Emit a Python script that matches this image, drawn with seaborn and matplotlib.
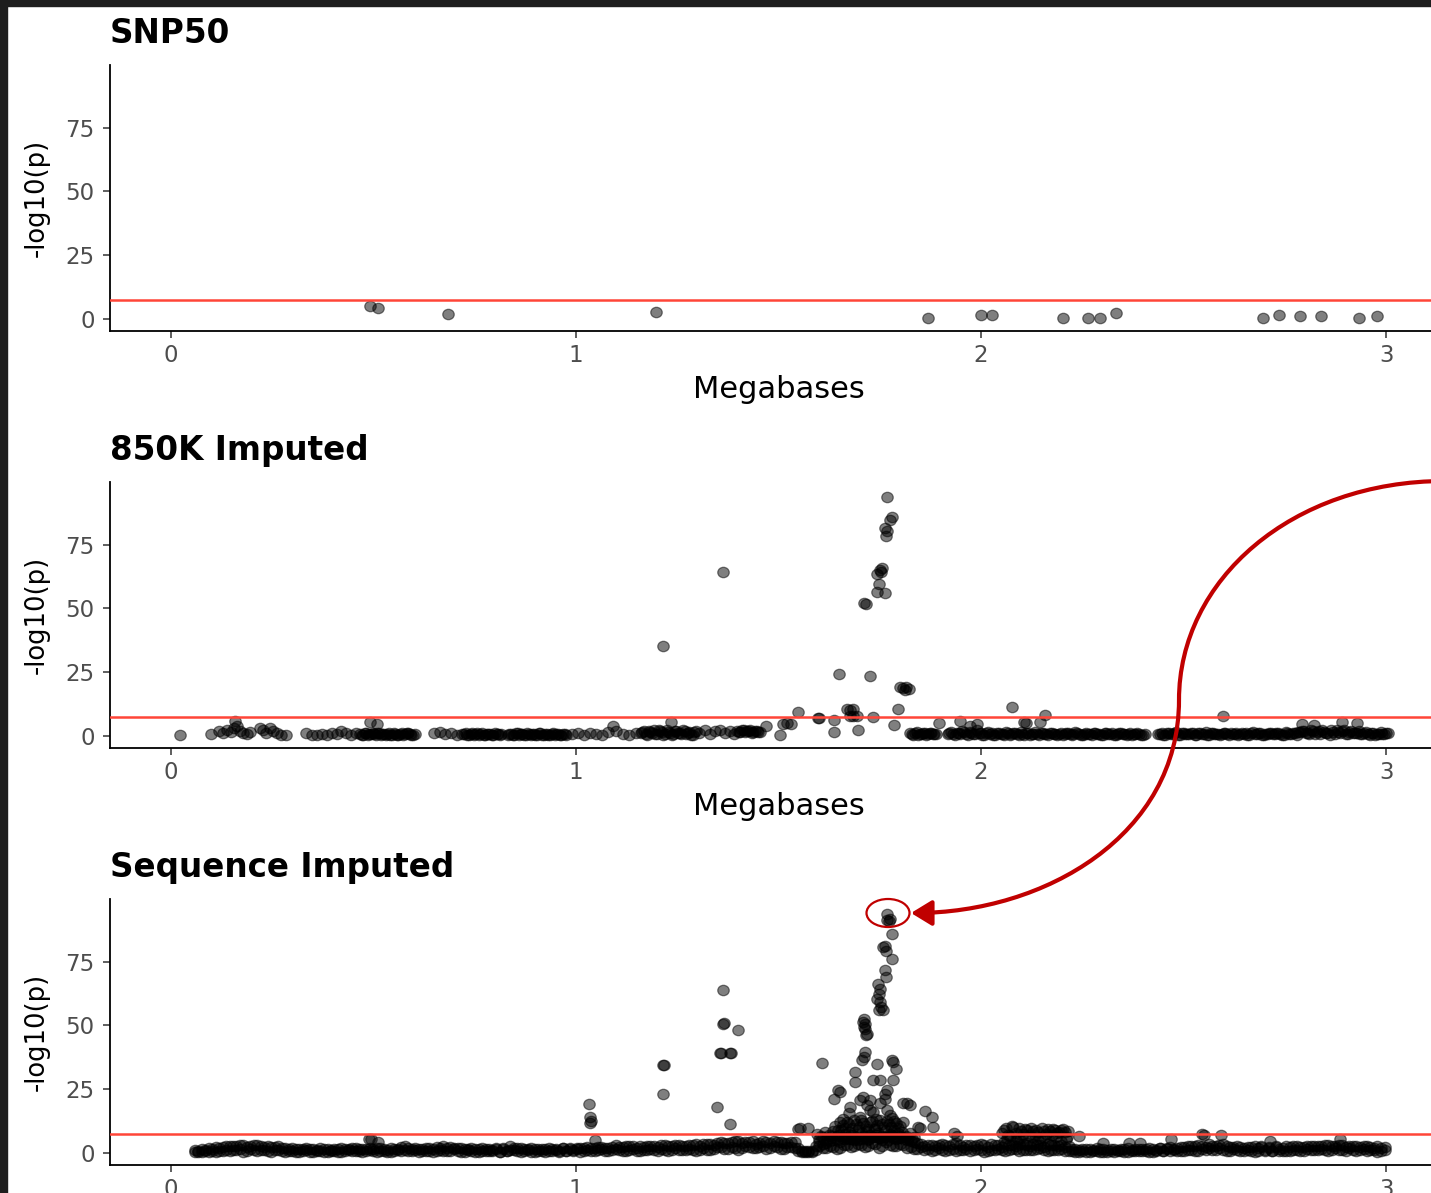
import numpy as np
import pandas as pd
import matplotlib
matplotlib.use("Agg")
import matplotlib.pyplot as plt
import seaborn as sns
from matplotlib.patches import FancyArrowPatch, Ellipse, Rectangle
from matplotlib.path import Path
from matplotlib.transforms import Affine2D

# ---------------------------------------------------------------- data
panel_titles = ["SNP50", "850K Imputed", "Sequence Imputed"]
x_ticks = [0, 1, 2, 3]
x_tick_labels = ["0", "1", "2", "3"]
y_ticks = [0, 25, 50, 75]
sig_threshold = 7.3

# SNP50 array
snp50_mb = [0.491, 0.511, 0.684, 1.198, 1.869, 2.000, 2.027, 2.202, 2.264, 2.294,
            2.333, 2.696, 2.736, 2.788, 2.840, 2.933, 2.978]
snp50_logp = [5.1, 4.3, 2.0, 2.7, 0.4, 1.6, 1.6, 0.4, 0.4, 0.4,
              2.3, 0.4, 1.6, 1.2, 1.2, 0.4, 1.2]

# 850K imputed: background markers
imp850_band_mb = [
    0.100, 0.118, 0.130, 0.140, 0.148, 0.155, 0.170, 0.178, 0.188, 0.196,
    0.220, 0.228, 0.236, 0.244, 0.252, 0.262, 0.272, 0.284, 0.335, 0.349,
    0.362, 0.374, 0.386, 0.398, 0.410, 0.432, 0.445, 0.458, 0.467, 0.475,
    0.483, 0.490, 0.498, 0.506, 0.514, 0.522, 0.530, 0.538, 0.546, 0.554,
    0.562, 0.570, 0.578, 0.586, 0.594, 0.602, 0.650, 0.664, 0.678, 0.692,
    0.706, 0.720, 0.728, 0.736, 0.744, 0.752, 0.760, 0.768, 0.776, 0.784,
    0.792, 0.800, 0.808, 0.816, 0.832, 0.840, 0.848, 0.856, 0.864, 0.872,
    0.880, 0.888, 0.896, 0.904, 0.912, 0.920, 0.928, 0.936, 0.944, 0.952,
    0.960, 0.968, 0.976, 0.990, 1.005, 1.020, 1.035, 1.050, 1.065, 1.080,
    1.100, 1.115, 1.130, 1.148, 1.160, 1.168, 1.176, 1.184, 1.192, 1.200,
    1.208, 1.216, 1.224, 1.232, 1.240, 1.248, 1.256, 1.264, 1.272, 1.280,
    1.288, 1.296, 1.305, 1.318, 1.330, 1.343, 1.356, 1.368, 1.380, 1.390,
    1.398, 1.406, 1.414, 1.422, 1.430, 1.438, 1.446, 1.454, 1.825, 1.833,
    1.841, 1.849, 1.857, 1.865, 1.873, 1.881, 1.889,
    1.918, 1.927, 1.936, 1.945, 1.954, 1.963, 1.972, 1.981, 1.990, 1.999,
    2.008, 2.017, 2.026, 2.035, 2.044, 2.053, 2.062, 2.071, 2.080, 2.089,
    2.098, 2.107, 2.116, 2.125, 2.134, 2.143, 2.152, 2.161, 2.170, 2.179,
    2.188, 2.197, 2.206, 2.215, 2.224, 2.233, 2.242, 2.251, 2.260, 2.269,
    2.278, 2.287, 2.296, 2.305, 2.314, 2.323, 2.332, 2.341, 2.350, 2.359,
    2.368, 2.377, 2.386, 2.395, 2.404,
    2.437, 2.446, 2.455, 2.464, 2.473, 2.482, 2.491, 2.500, 2.509, 2.518,
    2.527, 2.536, 2.545, 2.554, 2.563, 2.572, 2.581, 2.590, 2.599, 2.608,
    2.617, 2.626, 2.635, 2.644, 2.653, 2.662, 2.671, 2.680, 2.689, 2.698,
    2.707, 2.716, 2.725, 2.734, 2.743, 2.752, 2.761, 2.770, 2.779, 2.788,
    2.797, 2.806, 2.815, 2.824, 2.833, 2.842, 2.851, 2.860, 2.869, 2.878,
    2.887, 2.896, 2.905, 2.914, 2.923, 2.932, 2.941, 2.950, 2.959, 2.968,
    2.977, 2.986, 2.995, 3.004,
]
imp850_band_logp = [
    0.8, 2.0, 1.0, 2.5, 1.5, 3.0, 2.0, 1.0, 0.8, 1.5,
    3.0, 2.5, 1.0, 3.0, 2.0, 1.0, 0.5, 0.5, 1.0, 0.5,
    0.3, 0.8, 0.5, 1.0, 0.6, 1.0, 0.5, 1.2, 0.8, 0.3,
    1.2, 0.6, 1.0, 0.4, 1.3, 0.7, 0.2, 1.1, 0.5, 0.9,
    0.3, 1.2, 0.6, 1.0, 0.4, 0.8, 1.0, 1.5, 0.8, 1.2,
    0.5, 0.6, 1.0, 0.3, 1.2, 0.7, 0.4, 1.1, 0.5, 0.9,
    0.2, 1.0, 0.6, 0.8, 0.5, 0.9, 0.3, 1.1, 0.6, 0.2,
    1.0, 0.4, 0.8, 0.3, 1.2, 0.5, 0.7, 0.2, 1.0, 0.6,
    0.4, 0.9, 0.5, 0.8, 1.0, 0.5, 1.0, 0.8, 0.5, 1.5,
    2.0, 0.8, 0.5, 1.2, 1.0, 2.0, 0.4, 1.5, 2.5, 0.8,
    1.8, 0.5, 2.2, 1.2, 0.6, 2.0, 1.0, 2.4, 0.7, 1.6,
    0.3, 1.9, 1.2, 2.4, 0.8, 1.8, 2.5, 1.0, 2.0, 0.6,
    2.0, 1.5, 2.4, 1.8, 2.2, 1.6, 2.1, 1.4, 1.0, 0.5,
    1.4, 0.8, 1.2, 0.4, 1.1, 0.6, 0.9,
    0.8, 1.5, 0.4, 1.2, 2.0, 0.6, 1.4, 0.9, 2.2, 1.1,
    0.5, 1.6, 1.0, 0.3, 1.3, 0.7, 1.5, 0.4, 1.2, 0.9,
    1.6, 0.5, 1.1, 0.8, 1.4, 0.3, 1.0, 0.6, 1.3, 0.8,
    0.4, 1.2, 0.7, 1.0, 0.5, 1.4, 0.8, 0.3, 1.1, 0.6,
    1.3, 0.9, 0.4, 1.2, 0.7, 1.0, 0.5, 1.3, 0.8, 0.4,
    1.1, 0.6, 1.0, 0.3, 0.8,
    0.6, 1.2, 0.4, 1.0, 0.8, 1.4, 0.3, 1.1, 0.7, 1.3,
    0.5, 1.0, 0.8, 1.5, 0.4, 1.2, 0.9, 0.3, 1.1, 0.6,
    1.3, 0.8, 0.4, 1.2, 1.0, 0.5, 1.4, 0.7, 1.1, 0.3,
    0.9, 1.3, 0.6, 1.0, 0.4, 1.5, 0.8, 1.2, 0.5, 1.6,
    2.0, 1.0, 2.4, 0.7, 1.8, 2.2, 1.2, 0.5, 1.6, 2.5,
    1.1, 2.2, 0.6, 1.8, 1.3, 2.0, 0.8, 1.5, 0.4, 1.2,
    0.9, 1.4, 0.6, 1.0,
]
# 850K imputed: extra markers inside the densely typed stretches
imp850_dense_mb = [
    0.471, 0.479, 0.487, 0.494, 0.502, 0.510, 0.518, 0.526, 0.534, 0.542,
    0.550, 0.558, 0.566, 0.574, 0.582, 0.590, 0.598, 0.724, 0.732, 0.740,
    0.748, 0.756, 0.764, 0.772, 0.780, 0.788, 0.796, 0.804, 0.812, 0.836,
    0.844, 0.852, 0.860, 0.868, 0.876, 0.884, 0.892, 0.900, 0.908, 0.916,
    0.924, 0.932, 0.940, 0.948, 0.956, 0.964, 0.972, 1.164, 1.172, 1.180,
    1.188, 1.196, 1.204, 1.212, 1.220, 1.228, 1.236, 1.244, 1.252, 1.260,
    1.268, 1.276, 1.284, 1.292, 1.402, 1.410, 1.418, 1.426, 1.434, 1.442,
    1.450, 1.829, 1.837, 1.845, 1.853, 1.861, 1.869, 1.877, 1.885, 1.922,
    1.931, 1.940, 1.949, 1.958, 1.967, 1.976, 1.985, 1.994, 2.003, 2.012,
    2.021, 2.030, 2.039, 2.048, 2.057, 2.066, 2.075, 2.084, 2.093, 2.102,
    2.111, 2.120, 2.129, 2.138, 2.147, 2.156, 2.165, 2.174, 2.183, 2.192,
    2.201, 2.210, 2.219, 2.228, 2.237, 2.246, 2.255, 2.264, 2.273, 2.282,
    2.291, 2.300, 2.309, 2.318, 2.327, 2.336, 2.345, 2.354, 2.363, 2.372,
    2.381, 2.390, 2.399, 2.441, 2.450, 2.459, 2.468, 2.477, 2.486, 2.495,
    2.504, 2.513, 2.522, 2.531, 2.540, 2.549, 2.558, 2.567, 2.576, 2.585,
    2.594, 2.603, 2.612, 2.621, 2.630, 2.639, 2.648, 2.657, 2.666, 2.675,
    2.684, 2.693, 2.702, 2.711, 2.720, 2.729, 2.738, 2.747, 2.756, 2.765,
    2.774, 2.783, 2.792, 2.801, 2.810, 2.819, 2.828, 2.837, 2.846, 2.855,
    2.864, 2.873, 2.882, 2.891, 2.900, 2.909, 2.918, 2.927, 2.936, 2.945,
    2.954, 2.963, 2.972, 2.981, 2.990, 2.999,
]
imp850_dense_logp = [
    0.5, 1.0, 0.3, 0.9, 0.6, 1.1, 0.4, 0.8, 0.6, 0.3,
    1.0, 0.5, 0.8, 0.4, 1.0, 0.6, 0.5, 0.8, 0.4, 0.9,
    0.5, 1.0, 0.6, 0.3, 0.9, 0.7, 0.4, 0.8, 0.5, 0.7,
    0.3, 1.0, 0.5, 0.8, 0.4, 0.7, 0.9, 0.4, 1.0, 0.5,
    0.8, 0.3, 0.9, 0.5, 0.7, 0.3, 0.8, 1.5, 0.6, 2.0,
    1.2, 0.7, 2.2, 1.4, 0.9, 1.6, 0.4, 1.8, 1.3, 0.8,
    2.1, 1.1, 0.5, 1.4, 1.7, 2.2, 1.5, 2.0, 1.3, 1.9,
    1.7, 0.7, 1.1, 0.5, 0.9, 1.3, 0.6, 1.0, 0.8, 1.1,
    0.6, 1.3, 0.9, 1.6, 0.4, 1.0, 0.7, 1.3, 0.5, 1.1,
    0.8, 0.5, 1.2, 0.9, 0.4, 1.1, 0.6, 1.0, 0.3, 0.8,
    1.2, 0.5, 0.9, 0.6, 1.0, 0.7, 0.4, 1.1, 0.6, 0.9,
    0.3, 1.0, 0.6, 0.8, 1.2, 0.5, 0.9, 0.6, 0.4, 1.0,
    0.7, 0.5, 1.1, 0.8, 0.3, 0.9, 1.0, 0.6, 0.7, 0.5,
    0.9, 0.6, 0.5, 0.9, 0.5, 1.1, 0.6, 1.0, 0.4, 1.2,
    0.8, 0.6, 1.0, 0.4, 1.3, 0.7, 0.5, 1.1, 0.8, 0.6,
    0.9, 1.2, 0.5, 0.8, 1.1, 0.6, 0.9, 0.4, 1.0, 0.7,
    1.2, 0.5, 0.8, 1.1, 0.6, 1.0, 0.8, 0.5, 1.3, 0.7,
    1.0, 1.4, 1.8, 1.2, 0.6, 2.0, 1.5, 0.9, 1.7, 1.1,
    2.3, 0.8, 1.4, 1.9, 0.7, 1.6, 1.0, 1.3, 0.6, 1.1,
    0.8, 1.2, 0.5, 0.9, 0.6, 1.0,
]
# 850K imputed: associated markers
imp850_hit_mb = [
    0.024, 0.158, 0.163, 0.420, 0.491, 0.508, 1.092, 1.215, 1.234, 1.363,
    1.470, 1.504, 1.512, 1.522, 1.530, 1.549, 1.597, 1.601, 1.636, 1.636,
    1.650, 1.668, 1.676, 1.684, 1.677, 1.685, 1.693, 1.695, 1.712, 1.715,
    1.726, 1.734, 1.742, 1.744, 1.747, 1.750, 1.752, 1.755, 1.763, 1.763,
    1.765, 1.767, 1.769, 1.774, 1.779, 1.785, 1.796, 1.800, 1.808, 1.812,
    1.815, 1.822, 1.897, 1.948, 1.973, 1.989, 2.076, 2.105, 2.110, 2.146,
    2.158, 2.597, 2.792, 2.821, 2.891, 2.928,
]
imp850_hit_logp = [
    0.5, 6.0, 4.0, 2.1, 5.3, 4.7, 4.0, 35.2, 5.6, 64.1,
    4.0, 0.4, 4.7, 4.9, 4.6, 9.5, 7.1, 6.9, 6.4, 1.7,
    24.2, 10.5, 10.2, 10.5, 7.7, 8.0, 7.7, 2.3, 52.0, 51.7,
    23.6, 7.3, 63.3, 56.4, 59.4, 65.0, 64.2, 65.9, 81.5, 56.1,
    78.2, 80.5, 93.6, 84.8, 85.7, 4.4, 10.5, 19.2, 18.8, 18.2,
    19.0, 18.6, 5.0, 6.0, 4.0, 4.7, 11.2, 5.3, 5.0, 5.3,
    8.2, 7.7, 4.7, 4.2, 5.6, 5.2,
]

# Sequence imputed: background markers (two markers per listed position)
seq_band_mb = [
    0.060, 0.068, 0.077, 0.085, 0.094, 0.102, 0.111, 0.119, 0.128, 0.137,
    0.145, 0.153, 0.162, 0.171, 0.179, 0.188, 0.196, 0.205, 0.214, 0.222,
    0.231, 0.239, 0.248, 0.257, 0.265, 0.274, 0.283, 0.291, 0.300, 0.309,
    0.317, 0.326, 0.335, 0.343, 0.352, 0.361, 0.369, 0.378, 0.387, 0.395,
    0.404, 0.413, 0.421, 0.430, 0.439, 0.447, 0.456, 0.465, 0.473, 0.482,
    0.491, 0.500, 0.508, 0.517, 0.526, 0.534, 0.543, 0.552, 0.560, 0.569,
    0.578, 0.586, 0.595, 0.604, 0.612, 0.621, 0.630, 0.638, 0.647, 0.656,
    0.664, 0.673, 0.682, 0.690, 0.699, 0.708, 0.716, 0.725, 0.734, 0.742,
    0.751, 0.760, 0.768, 0.777, 0.786, 0.794, 0.803, 0.812, 0.820, 0.829,
    0.838, 0.846, 0.855, 0.864, 0.872, 0.881, 0.890, 0.898, 0.907, 0.916,
    0.924, 0.933, 0.942, 0.950, 0.959, 0.968, 0.976, 0.985, 0.994, 1.002,
    1.011, 1.020, 1.028, 1.037, 1.046, 1.054, 1.063, 1.072, 1.080, 1.089,
    1.098, 1.106, 1.115, 1.124, 1.132, 1.141, 1.150, 1.158, 1.167, 1.176,
    1.184, 1.193, 1.202, 1.210, 1.219, 1.228, 1.236, 1.245, 1.254, 1.262,
    1.271, 1.280, 1.288, 1.297, 1.306, 1.314, 1.323, 1.332, 1.340, 1.349,
    1.358, 1.366, 1.375, 1.384, 1.392, 1.401, 1.410, 1.418, 1.427, 1.436,
    1.444, 1.453, 1.462, 1.470, 1.479, 1.488, 1.496, 1.505, 1.514, 1.522,
    1.531, 1.540, 1.548, 1.557, 1.566, 1.574, 1.583, 1.592, 1.600, 1.609,
    1.618, 1.626, 1.635, 1.644, 1.652, 1.661, 1.670, 1.678, 1.687, 1.696,
    1.704, 1.713, 1.722, 1.730, 1.739, 1.748, 1.756, 1.765, 1.774, 1.782,
    1.791, 1.800, 1.808, 1.817, 1.826, 1.834, 1.843, 1.852, 1.860, 1.869,
    1.878, 1.886, 1.895, 1.904, 1.912, 1.921, 1.930, 1.938, 1.947, 1.956,
    1.964, 1.973, 1.982, 1.990, 1.999, 2.008, 2.016, 2.025, 2.034, 2.042,
    2.051, 2.060, 2.068, 2.077, 2.086, 2.094, 2.103, 2.112, 2.120, 2.129,
    2.138, 2.146, 2.155, 2.164, 2.172, 2.181, 2.190, 2.198, 2.207, 2.216,
    2.224, 2.233, 2.242, 2.250, 2.259, 2.268, 2.276, 2.285, 2.294, 2.302,
    2.311, 2.320, 2.328, 2.337, 2.346, 2.354, 2.363, 2.372, 2.380, 2.389,
    2.398, 2.406, 2.415, 2.424, 2.432, 2.441, 2.450, 2.458, 2.467, 2.476,
    2.484, 2.493, 2.502, 2.510, 2.519, 2.528, 2.536, 2.545, 2.554, 2.562,
    2.571, 2.580, 2.588, 2.597, 2.606, 2.614, 2.623, 2.632, 2.640, 2.649,
    2.658, 2.666, 2.675, 2.684, 2.692, 2.701, 2.710, 2.718, 2.727, 2.736,
    2.744, 2.753, 2.762, 2.770, 2.779, 2.788, 2.796, 2.805, 2.814, 2.822,
    2.831, 2.840, 2.848, 2.857, 2.866, 2.874, 2.883, 2.892, 2.900, 2.909,
    2.918, 2.926, 2.935, 2.944, 2.952, 2.961, 2.970, 2.978, 2.987, 2.996,
]
seq_band_logp = [
    0.3, 0.8, 0.2, 1.1, 0.5, 1.4, 0.4, 2.0, 0.9, 2.6,
    0.6, 2.8, 1.2, 3.0, 0.4, 2.5, 1.5, 3.1, 0.7, 2.7,
    1.3, 2.9, 0.5, 2.4, 1.0, 1.8, 0.3, 1.5, 0.9, 1.6,
    0.4, 1.4, 1.0, 1.7, 0.2, 1.3, 0.8, 1.5, 0.5, 1.2,
    0.9, 1.6, 0.3, 1.4, 1.0, 1.8, 0.6, 1.5, 0.4, 1.7,
    1.0, 1.4, 0.5, 1.9, 0.8, 1.3, 0.2, 1.6, 1.1, 2.2,
    2.9, 0.6, 1.7, 1.0, 0.3, 1.5, 0.9, 2.0, 0.4, 2.3,
    1.1, 2.6, 0.7, 2.2, 1.4, 1.9, 0.5, 1.6, 1.0, 1.8,
    0.3, 1.4, 0.9, 1.7, 0.6, 1.2, 1.5, 0.4, 1.9, 0.8,
    2.8, 1.3, 2.1, 0.5, 1.6, 1.0, 1.8, 0.3, 1.4, 0.9,
    1.7, 0.6, 1.5, 1.1, 0.4, 1.9, 0.8, 2.0, 1.2, 1.6,
    0.5, 2.1, 1.0, 1.8, 0.7, 2.3, 1.4, 2.0, 0.6, 2.4,
    3.0, 1.2, 2.2, 0.8, 2.6, 1.5, 2.0, 0.9, 2.5, 1.3,
    2.8, 1.0, 2.4, 1.6, 3.2, 0.7, 2.7, 1.9, 3.0, 1.1,
    2.6, 1.5, 3.3, 0.9, 2.8, 2.0, 3.5, 1.2, 3.0, 2.2,
    4.2, 1.6, 3.8, 2.5, 4.6, 1.3, 3.9, 2.8, 4.4, 1.8,
    3.6, 2.2, 4.8, 1.5, 4.0, 2.9, 4.5, 1.7, 3.8, 2.4,
    4.3, 1.9, 2.0, 0.9, 0.4, 0.7, 0.3, 2.9, 4.5, 1.8,
    3.9, 2.7, 5.2, 1.5, 4.4, 3.1, 5.8, 2.2, 4.9, 3.6,
    6.0, 2.5, 5.4, 3.8, 6.3, 2.0, 5.1, 4.2, 6.5, 2.8,
    5.5, 3.4, 6.1, 2.1, 4.7, 1.6, 3.9, 2.5, 1.2, 3.3,
    0.9, 2.7, 1.8, 3.5, 0.6, 2.9, 1.4, 3.8, 1.0, 2.4,
    3.2, 0.8, 2.6, 1.5, 3.6, 0.5, 2.2, 1.2, 3.0, 1.7,
    2.5, 0.9, 3.1, 1.6, 2.8, 0.7, 3.4, 1.3, 2.6, 1.0,
    3.0, 1.8, 2.4, 0.6, 3.3, 1.1, 2.7, 1.5, 2.2, 0.8,
    1.6, 0.4, 1.2, 0.8, 1.5, 0.3, 1.1, 0.7, 1.4, 0.5,
    1.0, 1.6, 0.4, 1.3, 0.8, 1.5, 0.2, 1.1, 1.7, 0.6,
    1.4, 0.9, 1.8, 0.5, 1.2, 2.0, 0.7, 1.5, 2.3, 1.0,
    1.9, 0.6, 2.5, 1.3, 2.8, 0.9, 3.2, 1.7, 2.4, 3.5,
    1.2, 2.9, 2.0, 3.4, 0.8, 2.2, 1.5, 2.7, 0.6, 1.9,
    1.1, 2.3, 0.5, 1.8, 2.6, 1.0, 2.0, 0.7, 2.4, 1.4,
    2.1, 0.9, 2.5, 1.3, 2.8, 0.6, 2.2, 1.7, 2.6, 1.0,
    2.9, 1.5, 3.1, 0.8, 2.7, 1.9, 3.3, 1.2, 2.5, 2.0,
    2.6, 0.7, 2.3, 1.5, 2.8, 1.0, 2.1, 0.5, 1.8, 1.2,
]
seq_band2_logp = [
    1.2, 0.4, 1.6, 0.6, 1.9, 0.8, 2.3, 0.9, 2.4, 1.1,
    2.9, 1.0, 2.6, 1.4, 3.2, 0.8, 2.7, 1.1, 3.0, 1.3,
    2.5, 0.8, 2.2, 1.0, 2.6, 0.6, 2.0, 0.7, 1.8, 0.5,
    1.5, 0.6, 1.8, 0.5, 1.4, 0.7, 1.9, 0.4, 1.6, 0.8,
    1.7, 0.5, 1.8, 0.7, 1.5, 0.6, 1.9, 0.8, 1.6, 0.6,
    1.8, 0.6, 2.0, 0.7, 1.5, 0.5, 1.8, 0.8, 1.6, 0.9,
    1.2, 2.0, 0.8, 1.9, 1.5, 0.7, 1.8, 0.6, 1.7, 0.9,
    2.0, 0.8, 1.9, 0.7, 1.8, 0.6, 1.9, 0.5, 1.7, 0.6,
    1.6, 0.5, 1.8, 0.6, 1.5, 0.7, 1.8, 0.5, 1.6, 0.7,
    1.2, 2.0, 0.7, 1.8, 0.6, 1.7, 0.5, 1.6, 0.8, 1.7,
    0.5, 1.8, 0.6, 1.6, 0.7, 1.8, 0.6, 1.7, 0.8, 2.0,
    1.9, 0.8, 2.2, 0.9, 2.0, 1.0, 2.3, 0.9, 2.1, 1.0,
    1.6, 2.4, 0.8, 2.6, 1.0, 2.7, 0.9, 2.6, 1.1, 2.8,
    1.4, 2.9, 0.9, 3.0, 1.2, 2.8, 1.0, 3.1, 1.3, 2.9,
    1.2, 3.2, 1.0, 3.4, 1.3, 3.6, 1.1, 3.5, 1.4, 3.8,
    2.2, 4.0, 1.5, 4.3, 2.0, 4.7, 1.8, 4.2, 2.4, 4.6,
    1.9, 4.1, 2.6, 4.4, 1.8, 4.6, 2.2, 4.3, 1.6, 4.0,
    2.2, 4.2, 0.6, 0.3, 0.8, 0.2, 0.6, 1.2, 2.6, 3.7,
    1.8, 4.6, 2.4, 5.0, 2.0, 5.4, 3.0, 5.6, 2.6, 5.2,
    3.2, 5.8, 2.8, 6.2, 3.5, 5.9, 2.7, 6.4, 3.0, 5.7,
    2.6, 5.8, 3.0, 5.2, 2.4, 4.4, 1.6, 3.6, 2.8, 1.4,
    3.0, 1.2, 3.3, 1.0, 3.1, 1.3, 3.5, 0.9, 3.2, 1.1,
    1.4, 3.3, 1.1, 3.0, 1.3, 3.2, 0.9, 3.4, 1.2, 3.1,
    1.2, 3.6, 1.0, 3.2, 1.4, 3.5, 1.1, 3.0, 1.3, 3.4,
    1.4, 3.2, 1.0, 3.4, 1.2, 3.1, 1.3, 3.3, 0.9, 2.6,
    0.6, 1.5, 0.5, 1.7, 0.4, 1.5, 0.6, 1.8, 0.5, 1.6,
    0.5, 0.9, 1.7, 0.6, 1.6, 0.5, 1.8, 0.6, 0.7, 1.5,
    0.6, 1.7, 0.5, 1.6, 0.8, 1.9, 0.6, 1.8, 0.9, 1.7,
    0.7, 2.2, 0.9, 2.6, 1.0, 2.9, 0.8, 2.6, 1.0, 1.8,
    2.6, 1.0, 3.0, 1.1, 2.7, 0.9, 2.5, 1.0, 2.3, 0.8,
    2.4, 0.9, 2.6, 0.8, 2.2, 0.7, 2.5, 0.9, 2.7, 0.8,
    0.8, 2.6, 0.9, 2.7, 1.0, 2.5, 0.8, 2.9, 1.1, 2.8,
    1.0, 2.8, 1.1, 3.0, 1.0, 2.9, 1.2, 3.1, 0.9, 2.8,
    1.0, 2.6, 1.1, 2.8, 0.9, 2.5, 1.0, 2.7, 0.8, 2.3,
]
# Sequence imputed: raised blocks around the threshold
seq_raised_mb = [
    2.052, 2.062, 2.071, 2.080, 2.090, 2.099, 2.108, 2.118, 2.127, 2.136,
    2.146, 2.155, 2.164, 2.174, 2.183, 2.192, 2.202, 2.211,
    2.057, 2.066, 2.076, 2.085, 2.094, 2.104, 2.113, 2.122, 2.132, 2.141,
    2.150, 2.160, 2.169, 2.178, 2.188, 2.197, 2.206, 2.215,
    2.056, 2.085, 2.113, 2.141, 2.169, 2.197,
    2.065, 2.095, 2.125, 2.155, 2.185, 2.210,
    1.596, 1.606, 1.615, 1.625, 1.635, 1.645, 1.655, 1.665, 1.675, 1.685,
    1.695, 1.705, 1.715, 1.725, 1.735, 1.745, 1.755, 1.765, 1.775, 1.785,
    1.795, 1.805, 1.815, 1.825, 1.835,
    1.600, 1.610, 1.620, 1.630, 1.640, 1.650, 1.660, 1.670, 1.680, 1.690,
    1.700, 1.710, 1.720, 1.730, 1.740, 1.750, 1.760, 1.770, 1.780, 1.790,
    1.800, 1.810, 1.820, 1.830,
    1.640, 1.652, 1.663, 1.675, 1.686, 1.698, 1.709, 1.721, 1.732, 1.744,
    1.755, 1.767, 1.778, 1.790, 1.801, 1.660, 1.700, 1.740, 1.780,
    1.646, 1.658, 1.669, 1.681, 1.692, 1.704, 1.715, 1.727, 1.738, 1.750,
    1.761, 1.773, 1.784, 1.796, 1.807,
]
seq_raised_logp = [
    8.0, 9.8, 6.5, 10.2, 5.4, 8.7, 9.5, 6.9, 8.8, 9.1,
    5.8, 8.5, 9.4, 7.2, 9.0, 8.3, 9.3, 6.1,
    9.0, 7.2, 10.4, 8.0, 9.6, 7.5, 8.9, 9.8, 7.0, 8.4,
    9.7, 7.4, 8.7, 9.5, 7.8, 9.2, 8.1, 8.6,
    4.5, 5.2, 4.0, 5.0, 4.3, 4.8,
    6.0, 5.6, 6.3, 5.8, 6.1, 5.5,
    7.5, 6.8, 8.2, 7.0, 8.8, 6.5, 9.0, 7.6, 8.4, 6.9,
    9.2, 7.8, 8.6, 7.1, 9.4, 8.0, 6.6, 8.9, 7.4, 9.1,
    7.9, 8.3, 6.7, 7.7, 6.4,
    5.5, 6.2, 5.0, 6.6, 5.8, 7.0, 6.1, 5.4, 7.2, 6.0,
    5.6, 6.8, 5.2, 6.4, 7.0, 5.7, 6.3, 5.1, 6.9, 5.9,
    6.5, 5.3, 6.0, 5.5,
    10.5, 12.0, 9.8, 11.5, 12.8, 10.2, 11.9, 9.5, 12.4, 10.8,
    11.2, 12.6, 10.0, 11.7, 10.4, 13.5, 14.0, 13.2, 13.8,
    9.2, 11.0, 12.2, 9.6, 11.4, 13.0, 10.6, 12.0, 9.4, 12.9,
    10.2, 11.5, 12.6, 9.8, 12.0,
]
# Sequence imputed: associated markers
seq_hit_mb = [
    0.490, 0.493, 0.512, 1.033, 1.035, 1.036, 1.035, 1.047, 1.216, 1.217,
    1.216, 1.347, 1.356, 1.358, 1.362, 1.366, 1.364, 1.380, 1.382, 1.380,
    1.401, 1.549, 1.553, 1.573, 1.607, 1.636, 1.648, 1.652, 1.673, 1.677,
    1.689, 1.690, 1.701, 1.705, 1.709, 1.710, 1.714, 1.718, 1.718, 1.726,
    1.726, 1.733, 1.734, 1.742, 1.751, 1.751, 1.763, 1.763, 1.767, 1.767,
    1.775, 1.779, 1.783, 1.783, 1.791, 1.808, 1.816, 1.825, 1.845, 1.849,
    1.862, 1.878, 1.882, 1.932, 1.940, 2.241, 2.300, 2.366, 2.393, 2.470,
    2.545, 2.549, 2.592, 2.714, 2.886,
    1.769, 1.768, 1.772, 1.775, 1.779, 1.763, 1.759, 1.766, 1.779, 1.763,
    1.766, 1.746, 1.750, 1.748, 1.744, 1.751, 1.753, 1.747, 1.757, 1.711,
    1.709, 1.713, 1.712, 1.714, 1.715,
]
seq_hit_logp = [
    5.3, 5.6, 4.4, 19.1, 14.2, 12.5, 11.8, 5.1, 34.6, 34.3,
    23.3, 18.1, 39.2, 39.0, 50.7, 50.9, 63.7, 39.2, 39.0, 11.2,
    48.0, 9.4, 9.6, 9.6, 35.3, 21.0, 24.6, 24.0, 15.5, 18.1,
    31.8, 27.9, 20.7, 36.3, 22.0, 37.6, 39.6, 18.8, 46.8, 16.8,
    20.7, 16.1, 28.5, 35.0, 28.5, 19.4, 23.3, 21.0, 16.8, 24.6,
    14.8, 36.3, 35.7, 28.5, 33.1, 19.4, 19.6, 18.8, 10.3, 9.6,
    16.5, 14.2, 10.3, 7.7, 6.6, 6.8, 4.0, 4.0, 4.0, 5.4,
    7.4, 7.0, 7.0, 4.7, 5.5,
    93.6, 91.2, 90.8, 91.5, 85.8, 81.2, 80.6, 79.3, 76.0, 71.5,
    68.9, 66.3, 64.3, 62.4, 60.4, 59.1, 57.2, 55.9, 55.9, 52.6,
    51.5, 50.7, 49.5, 48.7, 46.1,
]

# ---------------------------------------------------------------- style
sns.set_theme(style="ticks")
plt.rcParams["font.family"] = ["DejaVu Sans"]

W, H = 1431, 1193
fig = plt.figure(figsize=(W / 100, H / 100), dpi=100)
fig.patch.set_facecolor("white")

# round marker, a touch wider than tall
dot = Path.unit_circle().transformed(Affine2D().scale(1.1, 1.0))

panels = [
    (panel_titles[0], snp50_mb, snp50_logp, True),
    (panel_titles[1], imp850_band_mb + imp850_dense_mb + imp850_hit_mb,
     imp850_band_logp + imp850_dense_logp + imp850_hit_logp, True),
    (panel_titles[2], seq_band_mb + seq_band_mb + seq_raised_mb + seq_hit_mb,
     seq_band_logp + seq_band2_logp + seq_raised_logp + seq_hit_logp, False),
]
panel_tops = [65, 482, 899]
AX_LEFT, AX_RIGHT, AX_H = 110, 1447, 266

for (title, mb, logp, show_xlabel), top in zip(panels, panel_tops):
    ax = fig.add_axes([AX_LEFT / W, 1 - (top + AX_H) / H,
                       (AX_RIGHT - AX_LEFT) / W, AX_H / H])
    ax.set_facecolor("white")
    df = pd.DataFrame({"Megabases": mb, "logp": logp})
    sns.scatterplot(data=df, x="Megabases", y="logp", ax=ax, color="black",
                    marker=dot, s=68, alpha=0.5, edgecolor="black",
                    linewidth=0.9, legend=False, zorder=2)
    ax.axhline(sig_threshold, color="#ff4538", lw=1.8, zorder=3)

    ax.set_xlim(-0.15, 3.15)
    ax.set_ylim(-4.7, 99.5)
    ax.set_xticks(x_ticks)
    ax.set_xticklabels(x_tick_labels)
    ax.set_yticks(y_ticks)
    ax.grid(False)
    sns.despine(ax=ax)
    for side in ("left", "bottom"):
        ax.spines[side].set_linewidth(1.3)
        ax.spines[side].set_color("black")
    ax.tick_params(axis="both", length=5, width=1.1, color="#333333",
                   labelcolor="#4d4d4d", labelsize=16.5)
    ax.tick_params(axis="x", pad=4.5)
    ax.tick_params(axis="y", pad=6)

    if show_xlabel:
        ax.set_xlabel("Megabases", fontsize=22, color="black")
        ax.xaxis.set_label_coords(0.5, -0.165)
    else:
        ax.set_xlabel("")
    ax.set_ylabel("-log10(p)", fontsize=18.6, color="black")
    ax.yaxis.set_label_coords(-0.045, 0.5)
    ax.set_title(title, loc="left", fontsize=23.5, fontweight="bold",
                 y=(AX_H + 22) / AX_H, pad=0, va="baseline", color="black")


def fpos(x, y):
    return (x / W, 1 - y / H)


# curved call-out arrow pointing at the top sequence hit
verts = [fpos(1445, 481), fpos(1292, 481), fpos(1179, 580), fpos(1179, 700),
         fpos(1179, 835), fpos(1045, 913), fpos(911, 913)]
codes = [Path.MOVETO] + [Path.CURVE4] * 6
arrow = FancyArrowPatch(path=Path(verts, codes),
                        arrowstyle="-|>,head_length=0.9,head_width=0.55",
                        mutation_scale=14, lw=3.0, color="#c00000",
                        transform=fig.transFigure, zorder=20)
fig.add_artist(arrow)
ring = Ellipse(fpos(888, 913), 43 / W, 28 / H, transform=fig.transFigure,
               fill=False, ec="#c00000", lw=1.6, zorder=20)
fig.add_artist(ring)

# dark window frame along the top and left edges
fig.add_artist(Rectangle((0, 1 - 6 / H), 1, 6 / H, transform=fig.transFigure,
                         color="#1e1e1e", zorder=50))
fig.add_artist(Rectangle((0, 0), 7 / W, 1, transform=fig.transFigure,
                         color="#1e1e1e", zorder=50))

fig.savefig("out.png", dpi=100)
